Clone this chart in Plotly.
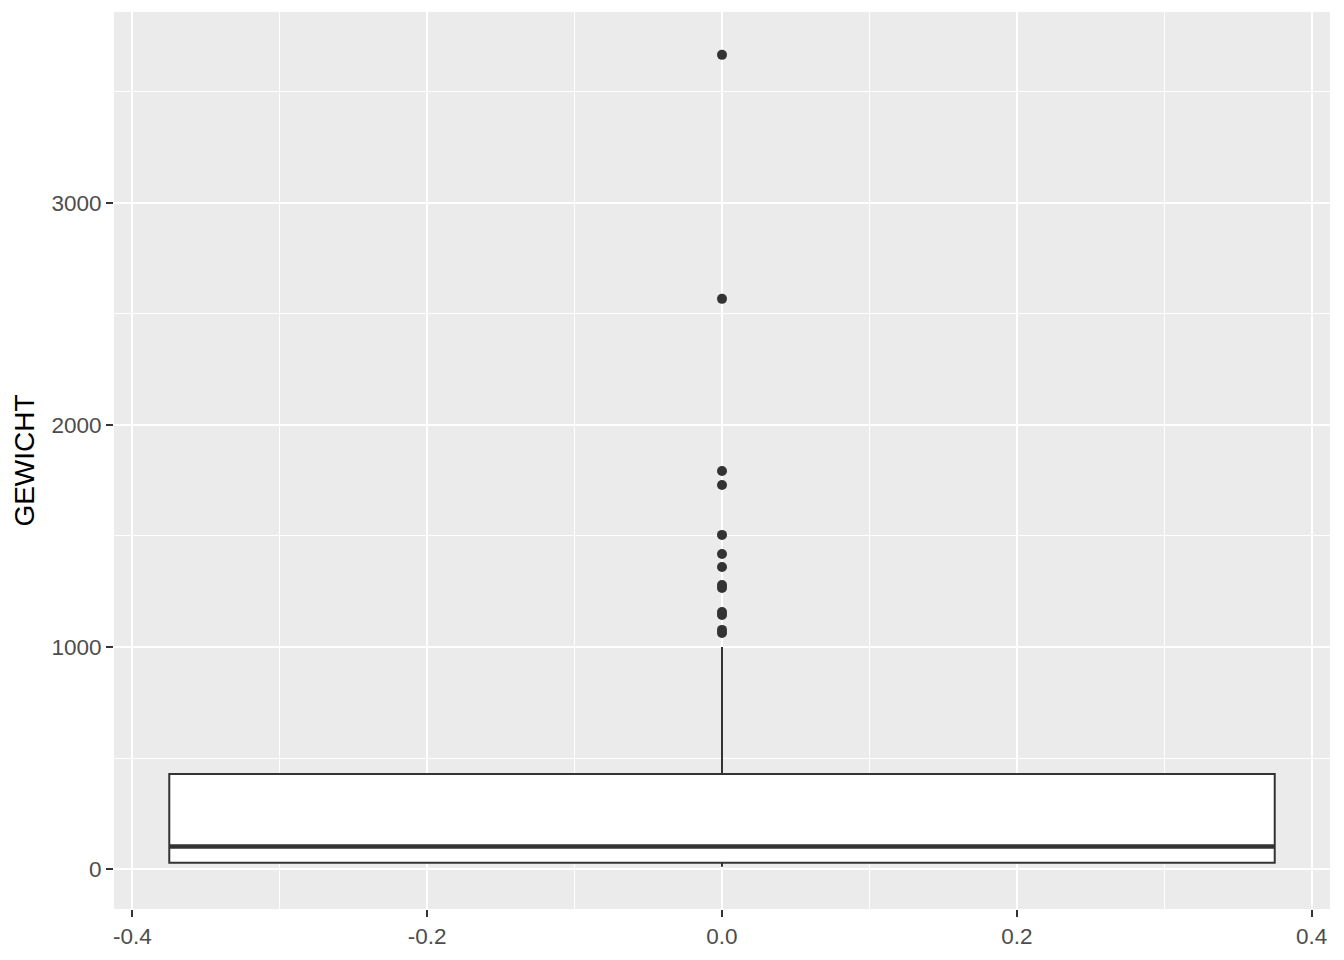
import plotly.graph_objects as go

# Box statistics (GEWICHT)
q1 = [28]
median = [102]
q3 = [428]
lower_fence = [10]
upper_fence = [1000]
box_x = [0.0]
box_width = 0.75

# Outliers
outliers = [3667, 2568, 1793, 1730, 1505, 1419, 1360, 1279, 1266, 1158, 1144, 1077, 1063]

y_ticks = [0, 1000, 2000, 3000]
x_ticks = [-0.4, -0.2, 0.0, 0.2, 0.4]
x_tick_labels = ["-0.4", "-0.2", "0.0", "0.2", "0.4"]

fig = go.Figure()
fig.add_trace(go.Box(
    x=box_x, q1=q1, median=median, q3=q3,
    lowerfence=lower_fence, upperfence=upper_fence,
    width=box_width, whiskerwidth=0,
    fillcolor="white", line=dict(color="#333333", width=2),
    boxpoints=False, showlegend=False, hoverinfo="skip",
))
# thicker median line like ggplot
fig.add_trace(go.Scatter(
    x=[box_x[0] - box_width / 2, box_x[0] + box_width / 2],
    y=[median[0], median[0]], mode="lines",
    line=dict(color="#333333", width=4.5), showlegend=False, hoverinfo="skip",
))
fig.add_trace(go.Scatter(
    x=[box_x[0]] * len(outliers), y=outliers, mode="markers",
    marker=dict(color="#333333", size=10), showlegend=False,
))

fig.update_layout(
    width=1344, height=960,
    margin=dict(l=114, r=14, t=12, b=51),
    paper_bgcolor="white", plot_bgcolor="#EBEBEB",
    font=dict(family="Liberation Sans, Arial, sans-serif"),
)
fig.update_xaxes(
    range=[-0.4125, 0.4125], tickvals=x_ticks, ticktext=x_tick_labels,
    showgrid=True, gridcolor="white", gridwidth=2, zeroline=False,
    ticks="outside", ticklen=7, tickwidth=2, tickcolor="#333333",
    tickfont=dict(size=22.5, color="#4D4D4D"), showline=False,
    minor=dict(tickvals=[-0.3, -0.1, 0.1, 0.3], showgrid=True, gridcolor="white", gridwidth=1, ticks=""),
)
fig.update_yaxes(
    range=[-180, 3860], tickvals=y_ticks,
    showgrid=True, gridcolor="white", gridwidth=2, zeroline=False,
    ticks="outside", ticklen=7, tickwidth=2, tickcolor="#333333",
    tickfont=dict(size=22.5, color="#4D4D4D"), showline=False,
    title=dict(text="GEWICHT", font=dict(size=28, color="black"), standoff=8),
    minor=dict(tickvals=[500, 1500, 2500, 3500], showgrid=True, gridcolor="white", gridwidth=1, ticks=""),
)

fig.write_html("out.html", config={"displayModeBar": False})
with open("out.html", "r", encoding="utf-8") as f:
    html = f.read()
html = html.replace("<head>", "<head><style>html,body{margin:0;padding:0;overflow:hidden;}</style>", 1)
with open("out.html", "w", encoding="utf-8") as f:
    f.write(html)
